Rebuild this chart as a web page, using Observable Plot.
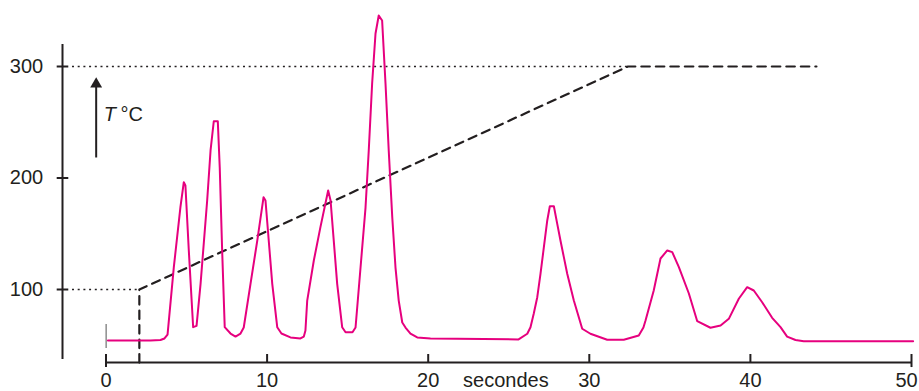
<!DOCTYPE html>
<html>
<head>
<meta charset="utf-8">
<script src="https://cdn.jsdelivr.net/npm/d3@7"></script>
<script src="https://cdn.jsdelivr.net/npm/@observablehq/plot@0.6"></script>
<style>
  html, body { margin: 0; padding: 0; background: #fff; }
  #chart svg { display: block; }
</style>
</head>
<body>
<div id="chart"></div>
<script>
// ---- data ----
const signalTime = [0.12, 2.76, 3.38, 3.63, 3.82, 4.21, 4.62, 4.83, 4.93, 5.14, 5.41, 5.62, 5.87, 6.28, 6.49, 6.69, 6.94, 7.06, 7.21, 7.37, 7.73, 8.04, 8.35, 8.55, 8.97, 9.39, 9.78, 9.90, 10.32, 10.63, 10.89, 11.45, 12.07, 12.28, 12.38, 12.49, 12.90, 13.31, 13.79, 13.94, 14.35, 14.66, 14.87, 15.30, 15.49, 15.80, 16.11, 16.31, 16.52, 16.73, 16.93, 17.14, 17.35, 17.55, 17.77, 17.97, 18.17, 18.39, 18.59, 18.90, 19.32, 20.14, 25.61, 26.15, 26.35, 26.55, 26.77, 26.97, 27.18, 27.39, 27.55, 27.80, 28.01, 28.21, 28.42, 28.63, 29.04, 29.56, 30.07, 31.11, 32.14, 33.07, 33.36, 33.49, 34.00, 34.42, 34.84, 35.15, 35.56, 36.18, 36.70, 37.52, 38.15, 38.66, 39.28, 39.80, 40.21, 40.73, 41.35, 41.87, 42.28, 42.80, 43.31, 50.1];
const signalValue = [54.3, 54.3, 54.7, 56.1, 59.6, 120.0, 173.8, 196.2, 193.3, 135.0, 66.2, 67.4, 105.1, 179.8, 224.7, 250.9, 250.9, 209.7, 135.0, 66.2, 60.5, 57.8, 60.5, 65.9, 105.1, 143.9, 182.8, 179.8, 105.1, 66.2, 60.5, 57.0, 56.1, 57.8, 63.2, 90.1, 126.0, 155.9, 188.8, 179.8, 105.1, 66.2, 61.7, 61.7, 65.9, 119.7, 173.5, 224.7, 284.8, 329.6, 345.7, 341.3, 284.8, 224.7, 164.6, 119.7, 90.1, 70.4, 65.9, 60.5, 57.0, 56.1, 55.2, 60.3, 66.2, 78.2, 93.1, 114.1, 137.9, 161.9, 174.7, 174.7, 158.9, 143.9, 129.0, 114.1, 90.1, 64.8, 60.3, 54.9, 54.9, 58.7, 65.9, 72.2, 99.1, 127.8, 135.0, 133.5, 120.0, 96.4, 71.6, 65.7, 67.7, 73.7, 91.7, 102.1, 99.1, 88.6, 74.6, 66.2, 57.8, 54.7, 53.6, 53.6];
const tempTime = [2.07, 2.07, 32.4, 44.1];
const tempValue = [34.5, 100, 300, 300];
const xTicks = [0, 10, 20, 30, 40, 50];
const yTicks = [100, 200, 300];
const xLabel = "secondes";
const yLabelItalic = "T";
const yLabelUnit = "°C";

// ---- layout constants (data units) ----
const xAxisAt = 34.5, yAxisAt = -2.7, xLabelAt = 18.3;
const ink = "#231f20";
const magenta = "#e6007e";
const font = "Liberation Sans, Arial, Helvetica, sans-serif";

const signal = signalTime.map((t, i) => ({t, v: signalValue[i]}));
const temp = tempTime.map((t, i) => ({t, v: tempValue[i]}));

const chart = Plot.plot({
  width: 919,
  height: 391,
  x: {domain: [0, 50], range: [105.5, 911], axis: null},
  y: {domain: [100, 300], range: [289, 66], axis: null},
  style: {fontFamily: font, background: "#fff", color: ink},
  marks: [
    // dotted guides
    Plot.ruleY([1, 2], {y: i => tempValue[i], x1: -2.08, x2: i => tempTime[i], stroke: ink, strokeWidth: 1.5, strokeDasharray: "2,3.7"}),
    // temperature program
    Plot.line(temp, {x: "t", y: "v", stroke: ink, strokeWidth: 2.2, strokeDasharray: "8.5,6"}),
    // x axis
    Plot.ruleY([xAxisAt], {x1: 0, x2: 50, stroke: ink, strokeWidth: 2}),
    Plot.ruleX(xTicks, {x: d => d, y1: d => (d === 0 || d === 50) ? 30.0 : xAxisAt, y2: 41.7, stroke: ink, strokeWidth: 2}),
    Plot.text(xTicks.filter(d => d < 50), {x: d => d, y: xLabelAt, text: d => String(d), fontSize: 20, fill: ink}),
    Plot.text(xTicks.filter(d => d === 50), {x: d => d, y: xLabelAt, dx: -5, text: d => String(d), fontSize: 20, fill: ink}),
    Plot.text([xLabel], {x: 24.82, y: xLabelAt, text: d => d, fontSize: 20, fill: ink}),
    // y axis
    Plot.ruleX([yAxisAt], {y1: 37.2, y2: 319.7, stroke: ink, strokeWidth: 2}),
    Plot.ruleY(yTicks, {y: d => d, x1: -3.03, x2: -2.31, stroke: ink, strokeWidth: 2}),
    Plot.text(yTicks, {x: -3.9, y: d => d, text: d => String(d), textAnchor: "end", fontSize: 20, fill: ink}),
    // T °C arrow and label
    Plot.link([0], {x1: -0.61, x2: -0.61, y1: 218.4, y2: 282.5, stroke: ink, strokeWidth: 2}),
    Plot.dot([0], {x: -0.61, y: 284.2, symbol: "triangle", r: 4.4, fill: ink, stroke: "none"}),
    Plot.text([yLabelItalic], {x: -0.137, y: 256.5, text: d => d, textAnchor: "start", fontStyle: "italic", fontSize: 20, fill: ink}),
    Plot.text([yLabelUnit], {x: 0.9, y: 256.5, text: d => d, textAnchor: "start", fontSize: 20, fill: ink}),
    // injection marker
    Plot.ruleX([0.01], {y1: 47.1, y2: 68.6, stroke: "#8c8c8c", strokeWidth: 1.5}),
    // signal
    Plot.line(signal, {x: "t", y: "v", stroke: magenta, strokeWidth: 2, strokeLinejoin: "round"})
  ]
});
document.getElementById("chart").appendChild(chart);
</script>
</body>
</html>
